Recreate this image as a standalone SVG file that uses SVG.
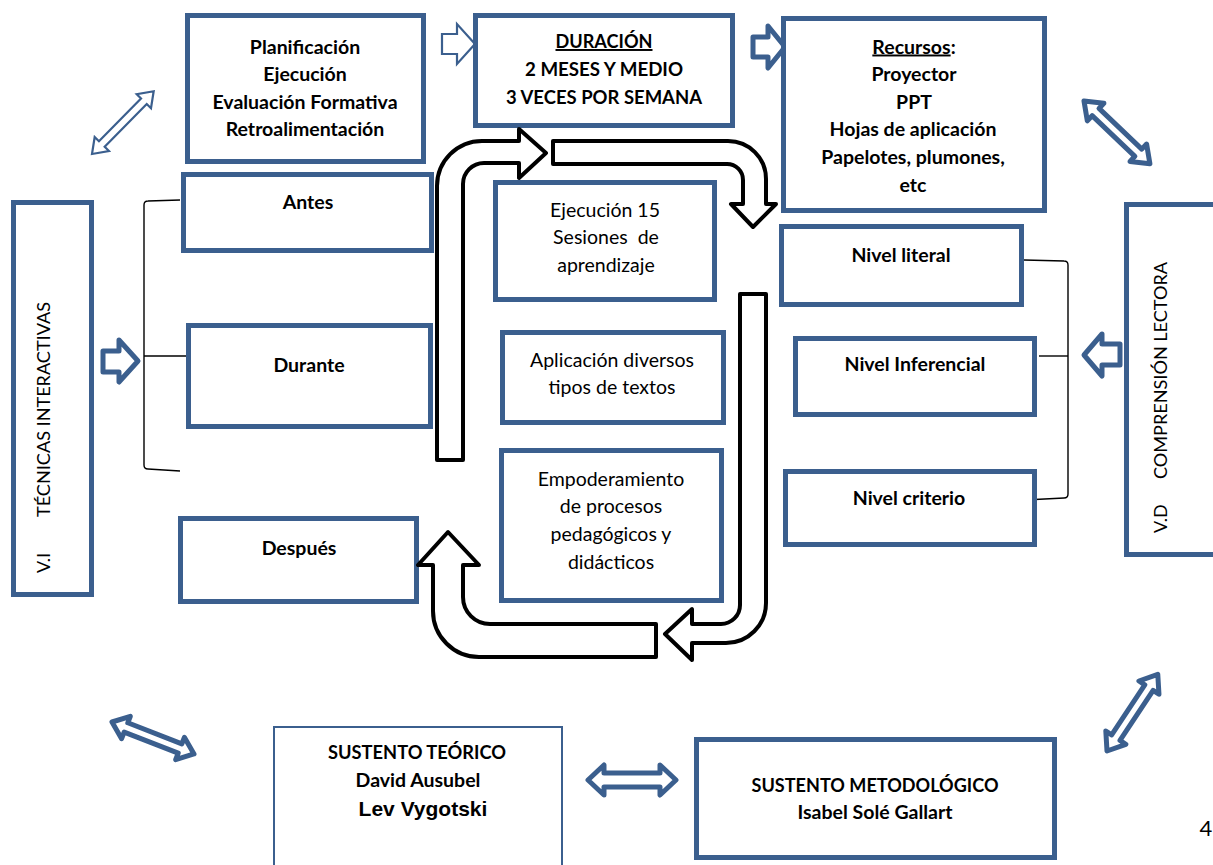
<svg xmlns="http://www.w3.org/2000/svg" width="1213" height="865" viewBox="0 0 1213 865">
<style>
.box{fill:#fff;stroke:#3b5f8e;stroke-width:5}
.thin{fill:#fff;stroke:#3b5f8e;stroke-width:2}
.barr{fill:#fff;stroke:#3b5f8e;stroke-width:5;stroke-linejoin:round}
.barr2{fill:#fff;stroke:#3b5f8e;stroke-width:2.2;stroke-linejoin:miter}
.karr{fill:#fff;stroke:#000;stroke-width:4;stroke-linejoin:round}
.br{fill:none;stroke:#000;stroke-width:1.4}
.b{font-family:Lato,'Open Sans',sans-serif;font-weight:bold;font-size:19.5px;fill:#000;text-anchor:middle}
.r{font-family:Lato,'Open Sans',sans-serif;font-size:19.5px;fill:#000;text-anchor:middle}
.rv{font-family:Lato,'Open Sans',sans-serif;font-size:18px;fill:#000}
</style>

<g id="connectors">
  <path class="barr2" transform="translate(92,154) rotate(-45.5)" d="M0,0 L14,-10 L14,-4 L74,-4 L74,-10 L88,0 L74,10 L74,4 L14,4 L14,10 Z"/>
  <path class="barr" transform="translate(1084,101) rotate(43.6)" d="M0,0 L16,-12 L16,-5 L75,-5 L75,-12 L91,0 L75,12 L75,5 L16,5 L16,12 Z"/>
  <path class="barr" transform="translate(112,722) rotate(21.3)" d="M0,0 L15,-12 L15,-5 L73,-5 L73,-12 L88,0 L73,12 L73,5 L15,5 L15,12 Z"/>
  <path class="barr" transform="translate(588,780)" d="M0,0 L16,-15 L16,-7 L72,-7 L72,-15 L88,0 L72,15 L72,7 L16,7 L16,15 Z"/>
  <path class="barr" transform="translate(1107,751) rotate(-56.5)" d="M0,0 L16,-12 L16,-5 L76,-5 L76,-12 L92,0 L76,12 L76,5 L16,5 L16,12 Z"/>
  <path class="barr2" d="M442,34 L457,34 L457,24 L475,44 L457,64 L457,54 L442,54 Z"/>
  <path class="barr" d="M753,37 L768,37 L768,26 L785,47 L768,68 L768,57 L753,57 Z"/>
  <path class="barr" d="M103,351 L119,351 L119,340 L138,361 L119,382 L119,372 L103,372 Z"/>
  <path class="barr" d="M1120,344 L1102,344 L1102,334 L1084,355 L1102,376 L1102,365 L1120,365 Z"/>
  <path class="br" d="M180,200 L148,201 Q144,201 144,205 L144,465 Q144,469 148,469 L180,471"/>
  <path class="br" d="M144,356 L192,356"/>
  <path class="br" d="M1024,260 L1064,261 Q1068,261 1068,265 L1068,494 Q1068,498 1064,498 L1025,500"/>
  <path class="br" d="M1039,356 L1068,356"/>
</g>

<g id="n-vi"><rect class="box" x="13.5" y="202.5" width="78" height="392"/>
  <text class="rv" transform="translate(50,573) rotate(-90)"><tspan x="0">V.I</tspan><tspan x="56" textLength="215" lengthAdjust="spacingAndGlyphs">TÉCNICAS INTERACTIVAS</tspan></text></g>
<g id="n-vd"><rect class="box" x="1126.5" y="204.5" width="100" height="350"/>
  <text class="rv" transform="translate(1167,533) rotate(-90)"><tspan x="0">V.D</tspan><tspan x="54" textLength="217" lengthAdjust="spacingAndGlyphs">COMPRENSIÓN LECTORA</tspan></text></g>

<g id="n-plan"><rect class="box" x="187.5" y="15.5" width="236" height="146"/>
  <text class="b" x="305" y="53.5">Planificación</text>
  <text class="b" x="305" y="81">Ejecución</text>
  <text class="b" x="305" y="108.5">Evaluación Formativa</text>
  <text class="b" x="305" y="136">Retroalimentación</text></g>
<g id="n-dur"><rect class="box" x="475.5" y="15.5" width="257" height="110"/>
  <text class="b" x="604" y="48" text-decoration="underline" textLength="97" lengthAdjust="spacingAndGlyphs">DURACIÓN</text>
  <text class="b" x="604" y="76" textLength="158" lengthAdjust="spacingAndGlyphs">2 MESES Y MEDIO</text>
  <text class="b" x="604" y="104" textLength="196" lengthAdjust="spacingAndGlyphs">3 VECES POR SEMANA</text></g>
<g id="n-rec"><rect class="box" x="783.5" y="18.5" width="261" height="192"/>
  <text class="b" x="914" y="53.5"><tspan text-decoration="underline">Recursos</tspan>:</text>
  <text class="b" x="914" y="81">Proyector</text>
  <text class="b" x="914" y="108.5">PPT</text>
  <text class="b" x="913" y="136">Hojas de aplicación</text>
  <text class="b" x="913" y="164">Papelotes, plumones,</text>
  <text class="b" x="913" y="192">etc</text></g>

<g id="n-antes"><rect class="box" x="183.5" y="174.5" width="248" height="76"/>
  <text class="b" x="308" y="208.5">Antes</text></g>
<g id="n-durante"><rect class="box" x="188.5" y="325.5" width="242" height="101"/>
  <text class="b" x="309" y="371.5">Durante</text></g>
<g id="n-despues"><rect class="box" x="180.5" y="518.5" width="236" height="83"/>
  <text class="b" x="299" y="554.5">Después</text></g>

<g id="n-ejec"><rect class="box" x="495.5" y="182.5" width="219" height="117"/>
  <text class="r" x="605" y="216.5">Ejecución 15</text>
  <text class="r" x="606" y="244" xml:space="preserve">Sesiones  de</text>
  <text class="r" x="606" y="271.5">aprendizaje</text></g>
<g id="n-aplic"><rect class="box" x="502.5" y="332.5" width="221" height="90"/>
  <text class="r" x="612" y="366.5">Aplicación diversos</text>
  <text class="r" x="612" y="393.5">tipos de textos</text></g>
<g id="n-empod"><rect class="box" x="501.5" y="450.5" width="220" height="150"/>
  <text class="r" x="611" y="485.5">Empoderamiento</text>
  <text class="r" x="611" y="513">de procesos</text>
  <text class="r" x="611" y="541">pedagógicos y</text>
  <text class="r" x="611" y="569">didácticos</text></g>

<g id="n-lit"><rect class="box" x="781.5" y="226.5" width="240" height="78"/>
  <text class="b" x="901" y="261.5">Nivel literal</text></g>
<g id="n-inf"><rect class="box" x="795.5" y="338.5" width="239" height="76"/>
  <text class="b" x="915" y="370.5">Nivel Inferencial</text></g>
<g id="n-crit"><rect class="box" x="785.5" y="471.5" width="249" height="73"/>
  <text class="b" x="909" y="504.5">Nivel criterio</text></g>

<g id="n-teo"><rect class="thin" x="274" y="727" width="288" height="150"/>
  <text class="b" x="417" y="758.5" textLength="178" lengthAdjust="spacingAndGlyphs">SUSTENTO TEÓRICO</text>
  <text class="b" x="418" y="786.5">David Ausubel</text>
  <text x="423" y="816" style="font-family:'Liberation Sans',Arial,sans-serif;font-weight:bold;font-size:21px;text-anchor:middle">Lev Vygotski</text></g>
<g id="n-met"><rect class="box" x="696.5" y="739.5" width="358" height="118"/>
  <text class="b" x="875" y="791.5" textLength="247" lengthAdjust="spacingAndGlyphs">SUSTENTO METODOLÓGICO</text>
  <text class="b" x="875" y="819">Isabel Solé Gallart</text></g>

<g id="cycle">
  <path class="karr" d="M437,460 L437,186 A45,45 0 0 1 482,141 L519,141 L519,129 L546,153 L519,178 L519,163 L484,163 A21,21 0 0 0 463,184 L463,460 Z"/>
  <path class="karr" d="M553,141 L728,141 A38,38 0 0 1 766,179 L766,204 L776,204 L753,227 L731,204 L743,204 L743,180 A16,16 0 0 0 727,164 L553,164 Z"/>
  <path class="karr" d="M740,294 L766,294 L766,603 A40,40 0 0 1 726,643 L692,643 L692,660 L665,634 L692,609 L692,624 L721,624 A19,19 0 0 0 740,605 Z"/>
  <path class="karr" d="M656,624 L490,624 A27,27 0 0 1 463,597 L463,565 L479,565 L448,532 L418,565 L433,565 L433,611 A46,46 0 0 0 479,657 L656,657 Z"/>
</g>

<text x="1206" y="836" style="font-family:Lato,'Open Sans',sans-serif;font-size:22px;text-anchor:middle">4</text>
</svg>
